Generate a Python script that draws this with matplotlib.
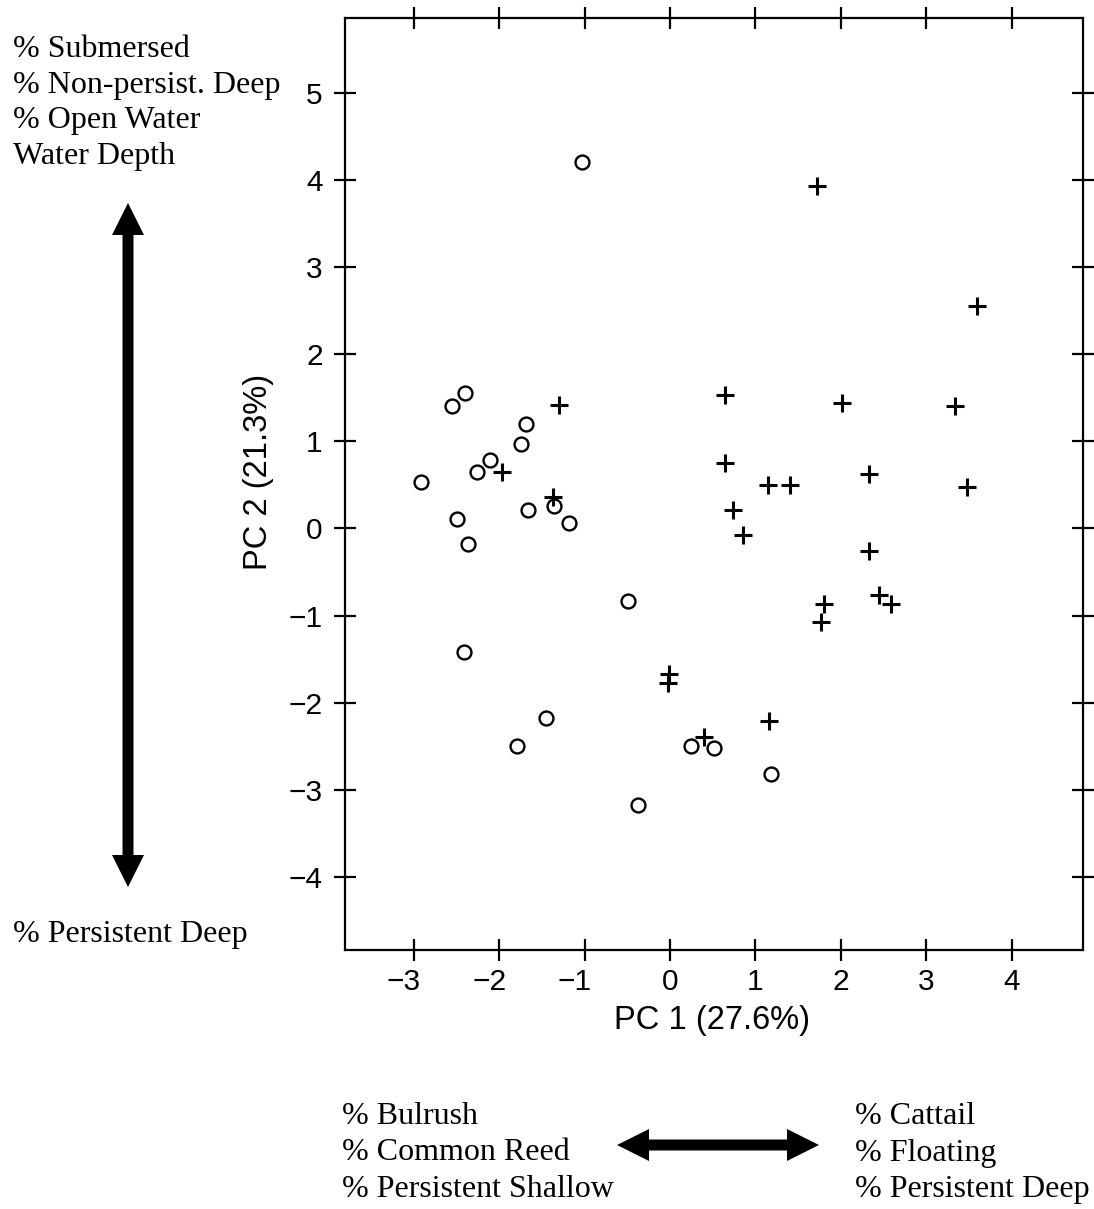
import matplotlib
matplotlib.use('Agg')
import matplotlib.pyplot as plt
from matplotlib.patches import FancyArrow
from matplotlib.transforms import ScaledTranslation

# ---- data ----
circle_pc1 = [-1.03, -2.40, -2.55, -1.69, -1.75, -2.11, -2.26, -2.92, -2.49, -2.36,
              -1.66, -1.36, -1.18, -0.49, -2.41, -1.45, -1.79, 0.25, 0.51, 1.18, -0.37]
circle_pc2 = [4.21, 1.55, 1.40, 1.20, 0.97, 0.78, 0.65, 0.53, 0.11, -0.18,
              0.21, 0.26, 0.06, -0.83, -1.42, -2.18, -2.50, -2.50, -2.52, -2.82, -3.18]

plus_pc1 = [-1.30, -1.97, -1.37, -0.01, -0.02, 1.16, 0.40, 0.64, 0.64, 1.15, 1.41, 0.74,
            0.86, 2.01, 1.72, 3.60, 3.34, 2.33, 3.48, 2.33, 2.45, 2.59, 1.80, 1.77]
plus_pc2 = [1.42, 0.65, 0.36, -1.67, -1.78, -2.21, -2.39, 1.53, 0.75, 0.50, 0.50, 0.21,
            -0.08, 1.44, 3.93, 2.55, 1.41, 0.62, 0.47, -0.26, -0.77, -0.87, -0.87, -1.07]

xticks = [-3, -2, -1, 0, 1, 2, 3, 4]
yticks = [-4, -3, -2, -1, 0, 1, 2, 3, 4, 5]
xlabel = 'PC 1 (27.6%)'
ylabel = 'PC 2 (21.3%)'
pc2_pos_lines = ['% Submersed', '% Non-persist. Deep', '% Open Water', 'Water Depth']
pc2_neg_lines = ['% Persistent Deep']
pc1_neg_lines = ['% Bulrush', '% Common Reed', '% Persistent Shallow']
pc1_pos_lines = ['% Cattail', '% Floating', '% Persistent Deep']

plt.rcParams['font.family'] = ['Liberation Sans', 'DejaVu Sans']
W, H = 1094, 1209
fig = plt.figure(figsize=(W / 100, H / 100), dpi=100)

# overlay in pixel coordinates for annotations
ov = fig.add_axes([0, 0, 1, 1], zorder=0)
ov.set_xlim(0, W)
ov.set_ylim(H, 0)
ov.axis('off')
ov.patch.set_visible(False)

ax = fig.add_axes([345 / W, 1 - 950 / H, (1083 - 345) / W, (950 - 18) / H], zorder=1)
ax.patch.set_visible(False)
ax.plot(circle_pc1, circle_pc2, linestyle='none', marker='o', mfc='none', mec='black',
        ms=10, mew=1.7)
ax.plot(plus_pc1, plus_pc2, linestyle='none', marker='+', color='black', ms=13.5, mew=2.2)
ax.set_xlim(-3.806, 4.836)
ax.set_ylim(-4.84, 5.86)
ax.set_xticks(xticks)
ax.set_yticks(yticks)
ax.set_xticklabels([str(v).replace('-', '\u2212') for v in xticks])
ax.set_yticklabels([str(v).replace('-', '\u2212') for v in yticks])
ax.tick_params(direction='inout', length=16, width=1.6, top=True, right=True,
               labelsize=21.5, color='black')
ax.tick_params(axis='x', pad=5)
ax.tick_params(axis='y', pad=8)
for s in ax.spines.values():
    s.set_linewidth(1.6)

shift = ScaledTranslation(-0.10, 0, fig.dpi_scale_trans)
for v, lab in zip(xticks, ax.get_xticklabels()):
    if v < 0:
        lab.set_transform(lab.get_transform() + shift)

# axis titles
ov.text(712, 1020, xlabel, ha='center', va='center', fontsize=23.5)
ov.text(258, 472, ylabel, ha='center', va='center', rotation=90, fontsize=23.5)

serif = dict(family=['Liberation Serif', 'DejaVu Serif'], fontsize=23, va='baseline', ha='left')
for i, s in enumerate(pc2_pos_lines):
    ov.text(13, 57 + 35.7 * i, s, **serif)
for i, s in enumerate(pc2_neg_lines):
    ov.text(13, 942 + 35.7 * i, s, **serif)
for i, s in enumerate(pc1_neg_lines):
    ov.text(342, 1124 + 36.5 * i, s, **serif)
for i, s in enumerate(pc1_pos_lines):
    ov.text(855, 1124 + 36.5 * i, s, **serif)

arrow_kw = dict(width=11, head_width=32, head_length=32, length_includes_head=True,
                fc='black', ec='none')
# vertical double arrow
ov.add_patch(FancyArrow(128, 545, 0, -342, **arrow_kw))
ov.add_patch(FancyArrow(128, 545, 0, 342, **arrow_kw))
# horizontal double arrow
ov.add_patch(FancyArrow(718, 1145, -101, 0, **arrow_kw))
ov.add_patch(FancyArrow(718, 1145, 101, 0, **arrow_kw))

fig.savefig('out.png', dpi=100)
